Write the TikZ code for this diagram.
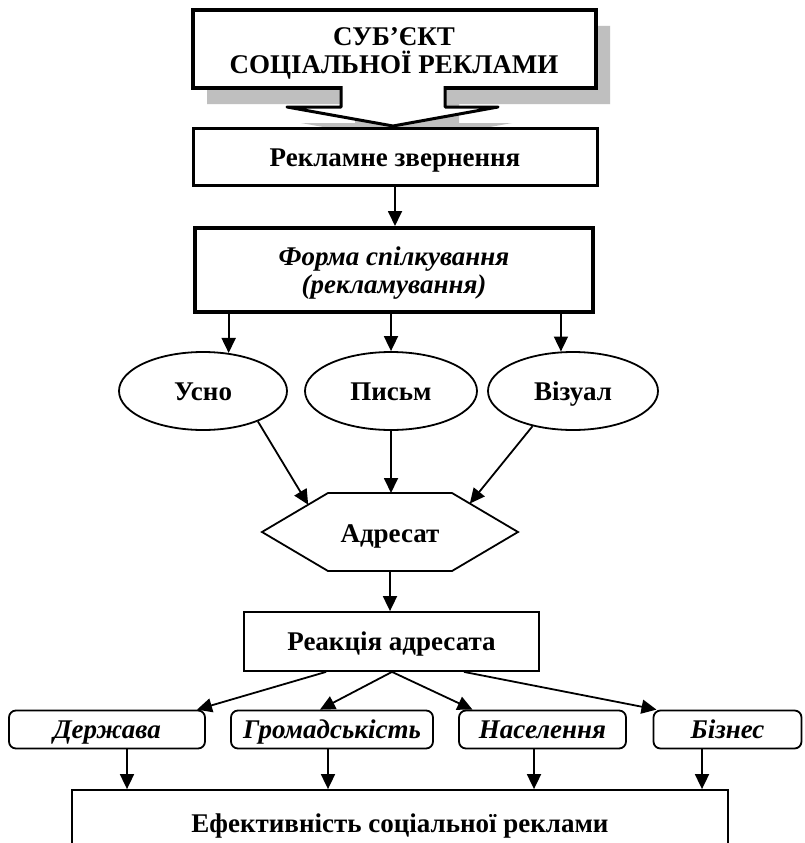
\documentclass[tikz,border=0pt]{standalone}
\usepackage{fontspec}
\setmainfont{Liberation Serif}
\usetikzlibrary{arrows.meta,shapes.geometric,calc}
\begin{document}
\begin{tikzpicture}[x=1pt,y=-1pt,
  txt/.style={font=\fontsize{27}{28}\selectfont\bfseries, inner sep=0pt, align=center},
  itxt/.style={font=\fontsize{27}{28}\selectfont\bfseries\itshape, inner sep=0pt, align=center},
  one/.style={text height=18pt, text depth=0pt},
  box/.style={txt, draw, fill=white, rectangle, line width=1.8pt},
  ell/.style={txt, one, draw, ellipse, line width=1.8pt, minimum height=78pt},
  rbox/.style={itxt, one, draw, rectangle, rounded corners=7pt, line width=1.8pt, minimum height=38pt},
  arr/.style={line width=1.8pt, -{Triangle[length=15pt,width=14pt]}},
  shadowfill/.style={fill=gray!50},
]
\clip (0,0) rectangle (804,843);
\fill[white] (0,0) rectangle (804,843);

% callout box with shadow
\fill[shadowfill, shift={(14,16)}] (341,88) -- (193,88) -- (193,10) -- (596,10) -- (596,88) -- (445,88) -- (445,107) -- (498,107) -- (393,126) -- (287,107) -- (341,107) -- cycle;
\fill[white] (341,88) -- (193,88) -- (193,10) -- (596,10) -- (596,88) -- (445,88) -- (445,107) -- (498,107) -- (393,126) -- (287,107) -- (341,107) -- cycle;
\draw[line width=4pt, line join=miter] (341,88) -- (193,88) -- (193,10) -- (596,10) -- (596,88) -- (445,88);
\draw[line width=3pt, line join=round] (445,86) -- (445,107) -- (498,107) -- (393,126) -- (287,107) -- (341,107) -- (341,86);
\node[txt] (top) at (394,53) {СУБ’ЄКТ\\СОЦІАЛЬНОЇ РЕКЛАМИ};

\node[box, one, line width=3pt, minimum width=404pt, minimum height=57pt] (rek) at (395,157) {Рекламне звернення};
\node[box, itxt, line width=4pt, minimum width=398pt, minimum height=84pt] (forma) at (394,270) {};
\node[itxt] (formatxt) at (394,273) {Форма спілкування\\(рекламування)};

\node[ell, minimum width=168pt] (usno) at (203,391) {Усно};
\node[ell, minimum width=172pt] (pis) at (391,391) {Письм};
\node[ell, minimum width=170pt] (viz) at (573,391) {Візуал};

% hexagon
\coordinate (h1) at (262,532);
\coordinate (h2) at (328,493);
\coordinate (h3) at (452,493);
\coordinate (h4) at (518,532);
\coordinate (h5) at (452,571);
\coordinate (h6) at (328,571);
\draw[line width=1.8pt, line join=miter] (h1) -- (h2) -- (h3) -- (h4) -- (h5) -- (h6) -- cycle;
\node[txt, one] (adr) at (390,533) {Адресат};
\coordinate (hul) at ($(h1)!0.7!(h2)$);
\coordinate (hur) at ($(h4)!0.73!(h3)$);
\coordinate (htop) at (390,493);
\coordinate (hbot) at (390,571);

\node[box, one, minimum width=295pt, minimum height=59pt] (rea) at (391.5,641.5) {Реакція адресата};

\node[rbox, minimum width=196pt] (der) at (107,729.5) {Держава};
\node[rbox, minimum width=202pt] (gro) at (332,729.5) {Громадськість};
\node[rbox, minimum width=167pt] (nas) at (542.5,729.5) {Населення};
\node[rbox, minimum width=148pt] (biz) at (727.5,729.5) {Бізнес};

\node[box, one, minimum width=656pt, minimum height=66pt] (eff) at (400,823) {Ефективність соціальної реклами};

% connectors
\draw[arr] (rek.south) -- (rek.south |- forma.north);
\draw[arr] (forma.south -| usno.56) -- (usno.56);
\draw[arr] (forma.south -| pis.north) -- (pis.north);
\draw[arr] (forma.south -| viz.107) -- (viz.107);

\draw[arr] (usno.-29) -- (hul);
\draw[arr] (pis.south) -- (pis.south |- htop);
\draw[arr] (viz.221) -- (hur);
\draw[arr] (hbot) -- (hbot |- rea.north);

\coordinate (r1) at ([xshift=-65.5pt]rea.south);
\coordinate (r2) at ([xshift=0.5pt]rea.south);
\coordinate (r3) at ([xshift=72.5pt]rea.south);
\draw[arr] (r1) -- ([xshift=90pt]der.north);
\draw[arr] (r2) -- ([xshift=-12pt]gro.north);
\draw[arr] (r2) -- ([xshift=-70pt]nas.north);
\draw[arr] (r3) -- ([xshift=-71pt]biz.north);

\coordinate (d1) at ([xshift=20pt]der.south);
\coordinate (d2) at ([xshift=-4pt]gro.south);
\coordinate (d3) at ([xshift=-8.5pt]nas.south);
\coordinate (d4) at ([xshift=-25.5pt]biz.south);
\draw[arr] (d1) -- (d1 |- eff.north);
\draw[arr] (d2) -- (d2 |- eff.north);
\draw[arr] (d3) -- (d3 |- eff.north);
\draw[arr] (d4) -- (d4 |- eff.north);
\end{tikzpicture}
\end{document}
